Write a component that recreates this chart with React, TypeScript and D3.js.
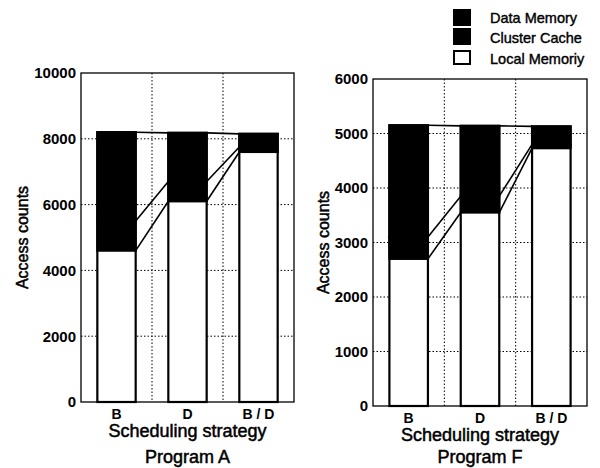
import React from "react";
import * as d3 from "d3";

const categories = ["B", "D", "B / D"];

// Program A
const localA = [4600, 6100, 7600];
const clusterA = [900, 600, 150];
const dataA = [2700, 1480, 400];
const ticksA = [0, 2000, 4000, 6000, 8000, 10000];

// Program F
const localF = [2700, 3550, 4730];
const clusterF = [400, 300, 70];
const dataF = [2050, 1290, 330];
const ticksF = [0, 1000, 2000, 3000, 4000, 5000, 6000];

const legendLabels = ["Data Memory", "Cluster Cache", "Local Memoriy"];
const legendFills = ["#000", "#000", "#fff"];

const FONT = "'Liberation Sans', Arial, Helvetica, sans-serif";

type PanelProps = {
  local: number[];
  cluster: number[];
  data: number[];
  ticks: number[];
  x0: number;
  x1: number;
  y0: number;
  y1: number;
  title: string;
  yLabelX: number;
  tickY: number;
  stratY: number;
  titleY: number;
};

function Panel(p: PanelProps) {
  const yMax = p.ticks[p.ticks.length - 1];
  const y = d3.scaleLinear().domain([0, yMax]).range([p.y1, p.y0]);
  const x = d3
    .scaleBand<string>()
    .domain(categories)
    .range([p.x0, p.x1])
    .paddingInner(0.46)
    .paddingOuter(0.23);
  const bw = x.bandwidth();
  const step = x.step();
  const lvl1 = p.local;
  const lvl2 = p.local.map((v, i) => v + p.cluster[i]);
  const lvl3 = lvl2.map((v, i) => v + p.data[i]);
  const cx = (p.x0 + p.x1) / 2;
  const cy = (p.y0 + p.y1) / 2;

  const vGrid = categories.slice(0, -1).map((c) => (x(c) as number) + bw + (step - bw) / 2);

  const connectors: { x1: number; x2: number; a: number; b: number }[] = [];
  [lvl1, lvl2, lvl3].forEach((lv) => {
    for (let i = 0; i < categories.length - 1; i++) {
      connectors.push({
        x1: (x(categories[i]) as number) + bw,
        x2: x(categories[i + 1]) as number,
        a: lv[i],
        b: lv[i + 1],
      });
    }
  });

  return (
    <g>
      {p.ticks.slice(1, -1).map((t) => (
        <line key={"h" + t} x1={p.x0} x2={p.x1} y1={y(t)} y2={y(t)} stroke="#000" strokeWidth={1} strokeDasharray="1.5,2" />
      ))}
      {vGrid.map((gx, i) => (
        <line key={"v" + i} x1={gx} x2={gx} y1={p.y0} y2={p.y1} stroke="#000" strokeWidth={1} strokeDasharray="1.5,2" />
      ))}
      <rect x={p.x0} y={p.y0} width={p.x1 - p.x0} height={p.y1 - p.y0} fill="none" stroke="#000" strokeWidth={1.3} />
      {categories.map((c, i) => {
        const bx = x(c) as number;
        return (
          <g key={c}>
            <rect x={bx} y={y(lvl3[i])} width={bw} height={p.y1 - y(lvl3[i])} fill="#fff" stroke="#000" strokeWidth={2.2} />
            <rect x={bx} y={y(lvl2[i])} width={bw} height={y(lvl1[i]) - y(lvl2[i])} fill="#000" stroke="#000" strokeWidth={2.2} />
            <rect x={bx} y={y(lvl3[i])} width={bw} height={y(lvl2[i]) - y(lvl3[i])} fill="#000" stroke="#000" strokeWidth={2.2} />
          </g>
        );
      })}
      {connectors.map((c, i) => (
        <line key={"c" + i} x1={c.x1} x2={c.x2} y1={y(c.a)} y2={y(c.b)} stroke="#000" strokeWidth={1.6} />
      ))}
      {p.ticks.map((t) => (
        <text key={"t" + t} x={p.x0 - 5} y={y(t)} dy="0.36em" textAnchor="end" fontFamily={FONT} fontWeight="bold" fontSize={15}>
          {t}
        </text>
      ))}
      {categories.map((c) => (
        <text key={"x" + c} x={(x(c) as number) + bw / 2} y={p.tickY} textAnchor="middle" fontFamily={FONT} fontWeight="bold" fontSize={14}>
          {c}
        </text>
      ))}
      <text x={cx} y={p.stratY} textAnchor="middle" fontFamily={FONT} fontSize={18} stroke="#000" strokeWidth={0.5}>
        Scheduling strategy
      </text>
      <text x={cx} y={p.titleY} textAnchor="middle" fontFamily={FONT} fontSize={18} stroke="#000" strokeWidth={0.5}>
        {p.title}
      </text>
      <text
        transform={`translate(${p.yLabelX},${cy}) rotate(-90)`}
        textAnchor="middle"
        dy="0.36em"
        fontFamily={FONT}
        fontSize={16}
        stroke="#000"
        strokeWidth={0.5}
      >
        Access counts
      </text>
    </g>
  );
}

export default function App() {
  return (
    <svg width={600} height={468} style={{ position: "absolute", left: 0, top: 0, background: "#fff" }}>
      <rect x={0} y={0} width={600} height={468} fill="#fff" />
      <Panel local={localA} cluster={clusterA} data={dataA} ticks={ticksA} x0={81} x1={294} y0={73} y1={402} title="Program A" yLabelX={22} tickY={419} stratY={437} titleY={463} />
      <Panel local={localF} cluster={clusterF} data={dataF} ticks={ticksF} x0={373} x1={587} y0={79} y1={406} title="Program F" yLabelX={323} tickY={423} stratY={441} titleY={463} />
      {legendLabels.map((l, i) => (
        <g key={l}>
          <rect
            x={454}
            y={[10, 29, 51][i]}
            width={16}
            height={[15, 15, 13][i]}
            fill={legendFills[i]}
            stroke="#000"
            strokeWidth={2}
          />
          <text x={490} y={[23, 43, 64][i]} fontFamily={FONT} fontSize={14.5} stroke="#000" strokeWidth={0.4}>
            {l}
          </text>
        </g>
      ))}
    </svg>
  );
}
